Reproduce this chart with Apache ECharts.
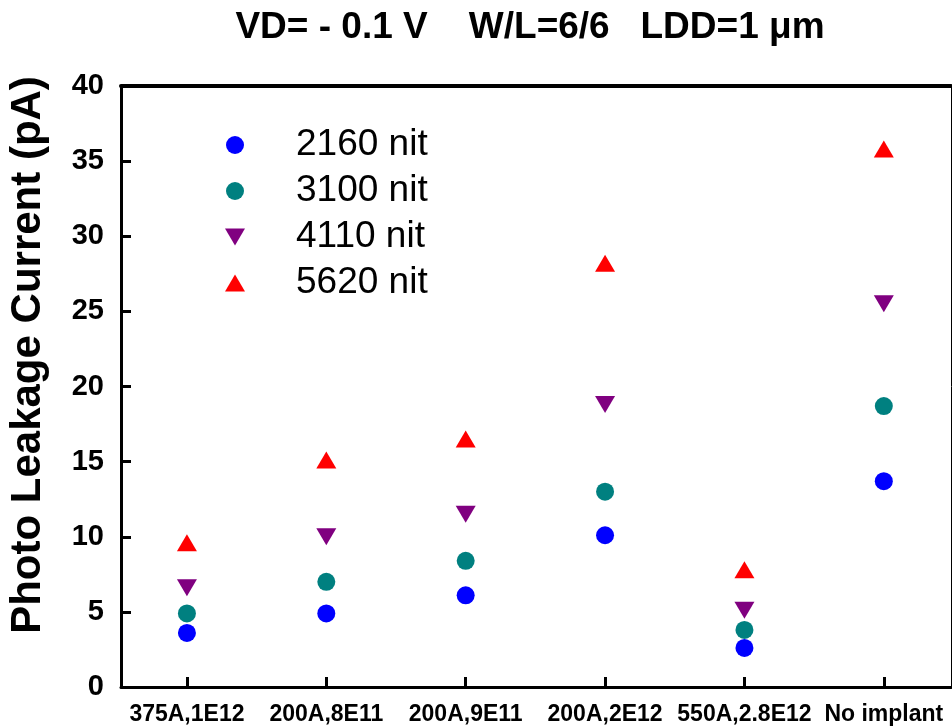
<!DOCTYPE html>
<html>
<head>
<meta charset="utf-8">
<script src="https://cdn.jsdelivr.net/npm/echarts@6/dist/echarts.min.js"></script>
<style>html,body{margin:0;padding:0;background:#fff}#c{width:952px;height:727px}</style>
</head>
<body>
<div id="c"></div>
<script>
const categories = ['375A,1E12', '200A,8E11', '200A,9E11', '200A,2E12', '550A,2.8E12', 'No implant'];
const seriesNames = ['2160 nit', '3100 nit', '4110 nit', '5620 nit'];
const v2160 = [3.6, 4.9, 6.1, 10.1, 2.6, 13.7];
const v3100 = [4.9, 7.0, 8.4, 13.0, 3.8, 18.7];
const v4110 = [6.6, 10.0, 11.5, 18.8, 5.1, 25.5];
const v5620 = [9.6, 15.1, 16.5, 28.2, 7.8, 35.8];
const yTicks = [0, 5, 10, 15, 20, 25, 30, 35, 40];

const colors = ['#0000ff', '#008080', '#800080', '#ff0000'];
const symbols = ['circle', 'circle', 'path://M0,0 L20,0 L10,17 Z', 'path://M10,0 L20,17 L0,17 Z'];
const sizes = [18, 18, [20, 17], [20, 17]];
const allValues = [v2160, v3100, v4110, v5620];

const series = allValues.map((vals, s) => ({
  name: seriesNames[s],
  type: 'scatter',
  data: vals.map((v, i) => [i + 1, v]),
  symbol: symbols[s],
  symbolSize: sizes[s],
  itemStyle: { color: colors[s], opacity: 1 },
  xAxisIndex: 0, yAxisIndex: 0,
  z: 3
}));

const F = '"Liberation Sans", Arial, sans-serif';
const chart = echarts.init(document.getElementById('c'), null, { renderer: 'canvas' });
chart.setOption({
  animation: false,
  backgroundColor: '#fff',
  legend: {
    orient: 'vertical',
    left: 220, top: 120,
    itemWidth: 20, itemHeight: 18,
    itemGap: 6,
    data: seriesNames,
    textStyle: { fontFamily: F, fontSize: 37, lineHeight: 40, color: '#000', padding: [0, 0, 0, 46] }
  },
  grid: { left: 121, right: 1, top: 86, bottom: 40, containLabel: false },
  xAxis: [{
    type: 'value', position: 'bottom',
    min: 0.527, max: 6.482,
    axisLine: { show: true, onZero: false, lineStyle: { color: '#000', width: 3 } },
    axisTick: { show: true, inside: true, length: 10, lineStyle: { color: '#000', width: 3 }, customValues: [1, 2, 3, 4, 5, 6] },
    axisLabel: {
      customValues: [1, 2, 3, 4, 5, 6],
      formatter: v => categories[Math.round(v) - 1] || '',
      margin: 16,
      fontFamily: F,
      fontWeight: 'bold', fontSize: 23, color: '#000'
    },
    splitLine: { show: false }
  }, {
    type: 'value', position: 'top',
    min: 0.527, max: 6.482,
    axisLine: { show: true, onZero: false, lineStyle: { color: '#000', width: 4 } },
    axisTick: { show: false }, axisLabel: { show: false }, splitLine: { show: false }
  }],
  yAxis: [{
    type: 'value', position: 'left',
    min: 0, max: 40, interval: 5,
    axisLine: { show: true, onZero: false, lineStyle: { color: '#000', width: 3 } },
    axisTick: { show: true, inside: true, length: 10, lineStyle: { color: '#000', width: 3 } },
    axisLabel: {
      margin: 17,
      formatter: v => yTicks.includes(v) ? String(v) : '',
      fontFamily: F,
      fontWeight: 'bold', fontSize: 29, color: '#000'
    },
    splitLine: { show: false }
  }, {
    type: 'value', position: 'right',
    min: 0, max: 40,
    axisLine: { show: true, onZero: false, lineStyle: { color: '#000', width: 1 } },
    axisTick: { show: false }, axisLabel: { show: false }, splitLine: { show: false }
  }],
  graphic: [{
    type: 'text',
    x: 530, y: 28,
    style: {
      text: 'VD= - 0.1 V    W/L=6/6   LDD=1 μm',
      fontFamily: F, fontWeight: 'bold', fontSize: 37, fill: '#000',
      align: 'center', verticalAlign: 'middle'
    }
  }, {
    type: 'text',
    x: 28, y: 355,
    rotation: Math.PI / 2,
    style: {
      text: 'Photo Leakage Current (pA)',
      fontFamily: F,
      fontWeight: 'bold', fontSize: 42, fill: '#000',
      align: 'center', verticalAlign: 'middle'
    }
  }],
  series: series
});
</script>
</body>
</html>
